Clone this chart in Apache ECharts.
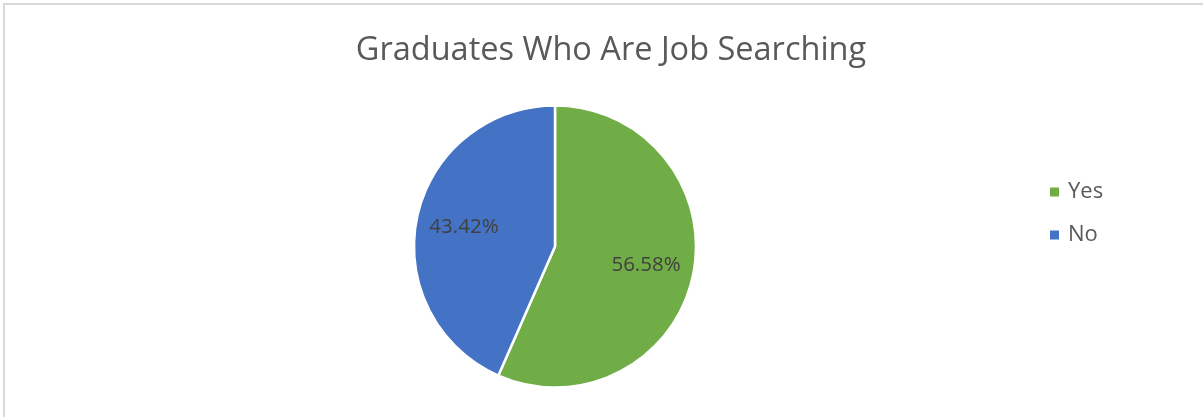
<!DOCTYPE html>
<html>
<head>
<meta charset="utf-8">
<script src="https://cdn.jsdelivr.net/npm/echarts@6/dist/echarts.min.js"></script>
<style>
html,body{margin:0;padding:0;background:#fff;}
#chart{width:1203px;height:417px;}
</style>
</head>
<body>
<div id="chart"></div>
<script>
const titleText = 'Graduates Who Are Job Searching';
const categories = ['Yes', 'No'];
const values = [56.58, 43.42];
const colors = ['#70AD47', '#4472C4'];

const pieData = categories.map((name, i) => ({ name: name, value: values[i], itemStyle: { color: colors[i] } }));
const labelData = categories.map((name, i) => ({ name: name, value: values[i] }));

const chart = echarts.init(document.getElementById('chart'), null, { renderer: 'canvas' });
chart.setOption({
  animation: false,
  backgroundColor: '#ffffff',
  graphic: [{
    type: 'rect',
    shape: { x: 4, y: 4, width: 1400, height: 600 },
    style: { fill: 'none', stroke: '#d9d9d9', lineWidth: 2 },
    silent: true,
    z: -10
  }],
  title: {
    text: titleText,
    left: 606,
    textAlign: 'center',
    top: 29,
    textStyle: { fontFamily: 'Open Sans', fontSize: 32.5, fontWeight: 'normal', color: '#595959' }
  },
  legend: {
    orient: 'vertical',
    left: 1043,
    top: 176,
    itemWidth: 11,
    itemHeight: 11,
    itemGap: 21,
    icon: 'rect',
    data: categories.map((name, i) => ({ name: name, itemStyle: { color: colors[i] } })),
    textStyle: { fontFamily: 'Open Sans', fontSize: 22, lineHeight: 22, color: '#595959', padding: [0, 0, 0, 3] }
  },
  series: [
    {
      type: 'pie',
      center: [555, 246.5],
      radius: [0, 141],
      startAngle: 90,
      clockwise: true,
      percentPrecision: 2,
      itemStyle: { borderColor: '#ffffff', borderWidth: 2.5 },
      label: { show: false },
      labelLine: { show: false },
      emphasis: { disabled: true },
      data: pieData
    },
    {
      type: 'pie',
      center: [555, 246.5],
      radius: [0, 180],
      startAngle: 90,
      clockwise: true,
      silent: true,
      percentPrecision: 2,
      itemStyle: { color: 'rgba(0,0,0,0)', borderWidth: 0 },
      label: {
        show: true,
        position: 'inside',
        formatter: '{d}%',
        fontFamily: 'Open Sans',
        fontSize: 20.5,
        padding: [8, 0, 0, 0],
        color: '#404040'
      },
      labelLine: { show: false },
      emphasis: { disabled: true },
      data: labelData
    }
  ]
});
</script>
</body>
</html>
